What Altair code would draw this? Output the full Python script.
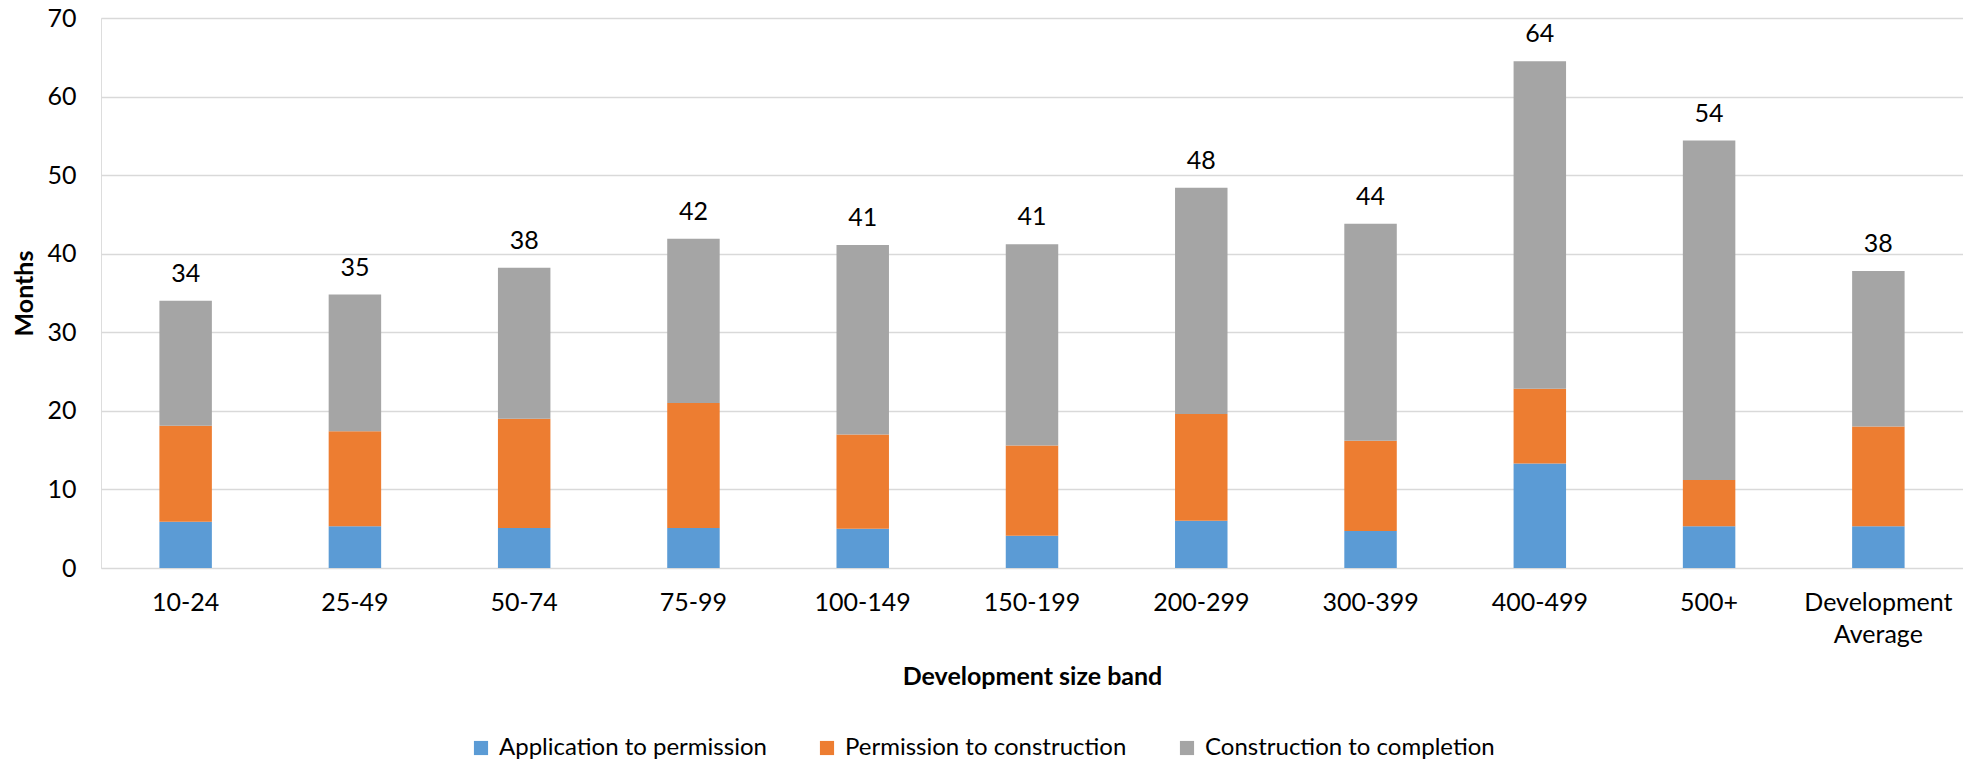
import altair as alt
import pandas as pd

categories = ["10-24", "25-49", "50-74", "75-99", "100-149", "150-199",
              "200-299", "300-399", "400-499", "500+", "Development Average"]
app_to_perm = [5.9, 5.3, 5.1, 5.1, 5.0, 4.1, 6.0, 4.7, 13.3, 5.3, 5.3]
perm_to_cons = [12.2, 12.1, 13.9, 15.9, 12.0, 11.5, 13.6, 11.5, 9.5, 5.9, 12.7]
cons_to_comp = [15.9, 17.4, 19.2, 20.9, 24.1, 25.6, 28.8, 27.6, 41.7, 43.2, 19.8]
total_labels = [34, 35, 38, 42, 41, 41, 48, 44, 64, 54, 38]
series = ["Application to permission", "Permission to construction", "Construction to completion"]
colors = ["#5B9BD5", "#ED7D31", "#A5A5A5"]
y_ticks = [0, 10, 20, 30, 40, 50, 60, 70]

rows = []
for i, c in enumerate(categories):
    for k, vals in enumerate([app_to_perm, perm_to_cons, cons_to_comp]):
        rows.append({"category": c, "series": series[k], "value": vals[i], "order": k})
df = pd.DataFrame(rows)

tot = pd.DataFrame({
    "category": categories,
    "total": [a + b + c for a, b, c in zip(app_to_perm, perm_to_cons, cons_to_comp)],
    "label": [str(v) for v in total_labels],
})

FONT = "Lato"
FS = 25

x_enc = alt.X(
    "category:N", sort=categories,
    scale=alt.Scale(paddingInner=0.69, paddingOuter=0.345),
    axis=alt.Axis(
        title="Development size band", labelAngle=0, domain=False, ticks=False,
        labelPadding=22, labelFontSize=FS, labelFont=FONT, labelColor="#000000",
        labelExpr="datum.value == 'Development Average' ? ['Development', 'Average'] : datum.label",
        labelLineHeight=32, labelLimit=0,
        titleFontSize=FS, titleFont=FONT, titleFontWeight="bold", titleColor="#000000",
        titlePadding=17,
    ),
)

bars = alt.Chart(df).mark_bar().encode(
    x=x_enc,
    y=alt.Y(
        "value:Q", stack="zero",
        scale=alt.Scale(domain=[0, 70], nice=False),
        axis=alt.Axis(
            values=y_ticks, title="Months", grid=True, domain=False, ticks=False,
            gridColor="#D9D9D9", gridWidth=1.5,
            labelPadding=25, labelFontSize=FS, labelFont=FONT, labelColor="#000000",
            titleFontSize=FS, titleFont=FONT, titleFontWeight="bold", titleColor="#000000",
            titlePadding=9,
        ),
    ),
    color=alt.Color(
        "series:N",
        scale=alt.Scale(domain=series, range=colors),
        legend=alt.Legend(
            orient="none", legendX=368, legendY=718, direction="horizontal",
            title=None, symbolType="square", symbolSize=200, symbolStrokeWidth=0,
            labelFontSize=24, labelFont=FONT, labelColor="#000000", labelLimit=0,
            columnPadding=48, labelOffset=6, padding=0,
        ),
    ),
    order=alt.Order("order:Q"),
)

labels = alt.Chart(tot).mark_text(
    dy=-27, fontSize=FS, font=FONT, color="#000000", baseline="middle"
).encode(
    x=alt.X("category:N", sort=categories),
    y=alt.Y("total:Q"),
    text="label:N",
)

chart = alt.layer(bars, labels).properties(
    width=1862, height=550,
    padding={"left": 101, "top": 18, "right": 0, "bottom": 193},
    autosize="none",
).configure_view(stroke=None).configure(background="white")

chart.save("out.html", embed_options={"renderer": "svg", "actions": False})
